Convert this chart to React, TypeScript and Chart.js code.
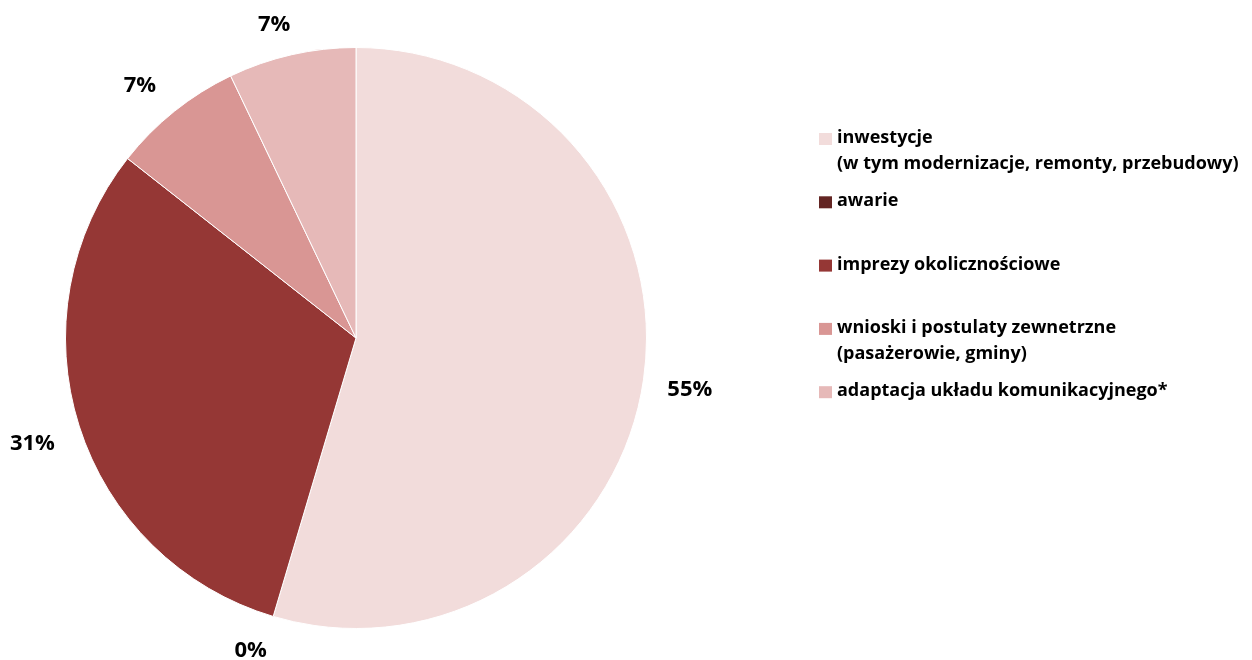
import React, { useEffect, useRef } from "react";
import { Chart, registerables } from "chart.js";

Chart.register(...registerables);

const categories: string[][] = [
  ["inwestycje", "(w tym modernizacje, remonty, przebudowy)"],
  ["awarie"],
  ["imprezy okolicznościowe"],
  ["wnioski i postulaty zewnetrzne", "(pasażerowie, gminy)"],
  ["adaptacja układu komunikacyjnego*"],
];
const shares: number[] = [54.6, 0, 31.0, 7.3, 7.1];
const colors: string[] = ["#F2DCDB", "#632523", "#953735", "#D99694", "#E6B9B8"];

const LEGEND_FONT = "bold 18px 'Open Sans', sans-serif";
const LABEL_FONT = "bold 22px 'Open Sans', sans-serif";

const labelPlugin = {
  id: "outsideLabels",
  afterDatasetsDraw(chart: any) {
    const ctx = chart.ctx as CanvasRenderingContext2D;
    const meta = chart.getDatasetMeta(0);
    const data = chart.data.datasets[0].data as number[];
    const total = data.reduce((a, b) => a + b, 0);
    ctx.save();
    ctx.font = LABEL_FONT;
    ctx.fillStyle = "#000";
    ctx.textAlign = "center";
    ctx.textBaseline = "middle";
    meta.data.forEach((arc: any, i: number) => {
      const { x, y, startAngle, endAngle, outerRadius } = arc.getProps(
        ["x", "y", "startAngle", "endAngle", "outerRadius"],
        true
      );
      const mid = (startAngle + endAngle) / 2;
      const r = outerRadius + 23;
      const px = x + Math.cos(mid) * (r + 8 * Math.abs(Math.sin(mid)));
      const py = y + Math.sin(mid) * r;
      const text = Math.round((data[i] / total) * 100) + "%";
      const w = ctx.measureText(text).width;
      const h = 20;
      const fx = Math.max(-1, Math.min(1, Math.cos(mid) * 3));
      const fy = Math.max(-1, Math.min(1, Math.sin(mid) * 3));
      ctx.fillText(text, px + (w / 2) * fx, py + (h / 2) * fy + 2);
    });
    ctx.restore();
  },
};

const legendPlugin = {
  id: "sideLegend",
  afterDraw(chart: any) {
    const ctx = chart.ctx as CanvasRenderingContext2D;
    const x0 = 819;
    const y0 = 138;
    const step = 63.3;
    const lineH = 26;
    ctx.save();
    ctx.font = LEGEND_FONT;
    ctx.textAlign = "left";
    ctx.textBaseline = "middle";
    categories.forEach((lines, i) => {
      const y = y0 + i * step;
      ctx.fillStyle = colors[i];
      ctx.fillRect(x0, y - 5, 13, 12);
      ctx.fillStyle = "#000";
      lines.forEach((ln, j) => {
        ctx.fillText(ln, x0 + 18, y + j * lineH);
      });
    });
    ctx.restore();
  },
};

export default function App() {
  const ref = useRef<HTMLCanvasElement | null>(null);
  useEffect(() => {
    if (!ref.current) return;
    const chart = new Chart(ref.current, {
      type: "pie",
      data: {
        labels: categories.map((c) => c.join(" ")),
        datasets: [
          {
            data: shares,
            backgroundColor: colors,
            borderColor: "#ffffff",
            borderWidth: 1,
          },
        ],
      },
      options: {
        responsive: false,
        animation: false,
        layout: { padding: { left: 65, right: 605, top: 47, bottom: 31 } },
        plugins: {
          legend: { display: false },
          tooltip: { enabled: false },
        },
      },
      plugins: [labelPlugin, legendPlugin],
    });
    return () => chart.destroy();
  }, []);
  return (
    <div style={{ position: "fixed", left: 0, top: 0, width: 1252, height: 660, background: "#fff" }}>
      <canvas ref={ref} width={1252} height={660} />
    </div>
  );
}
